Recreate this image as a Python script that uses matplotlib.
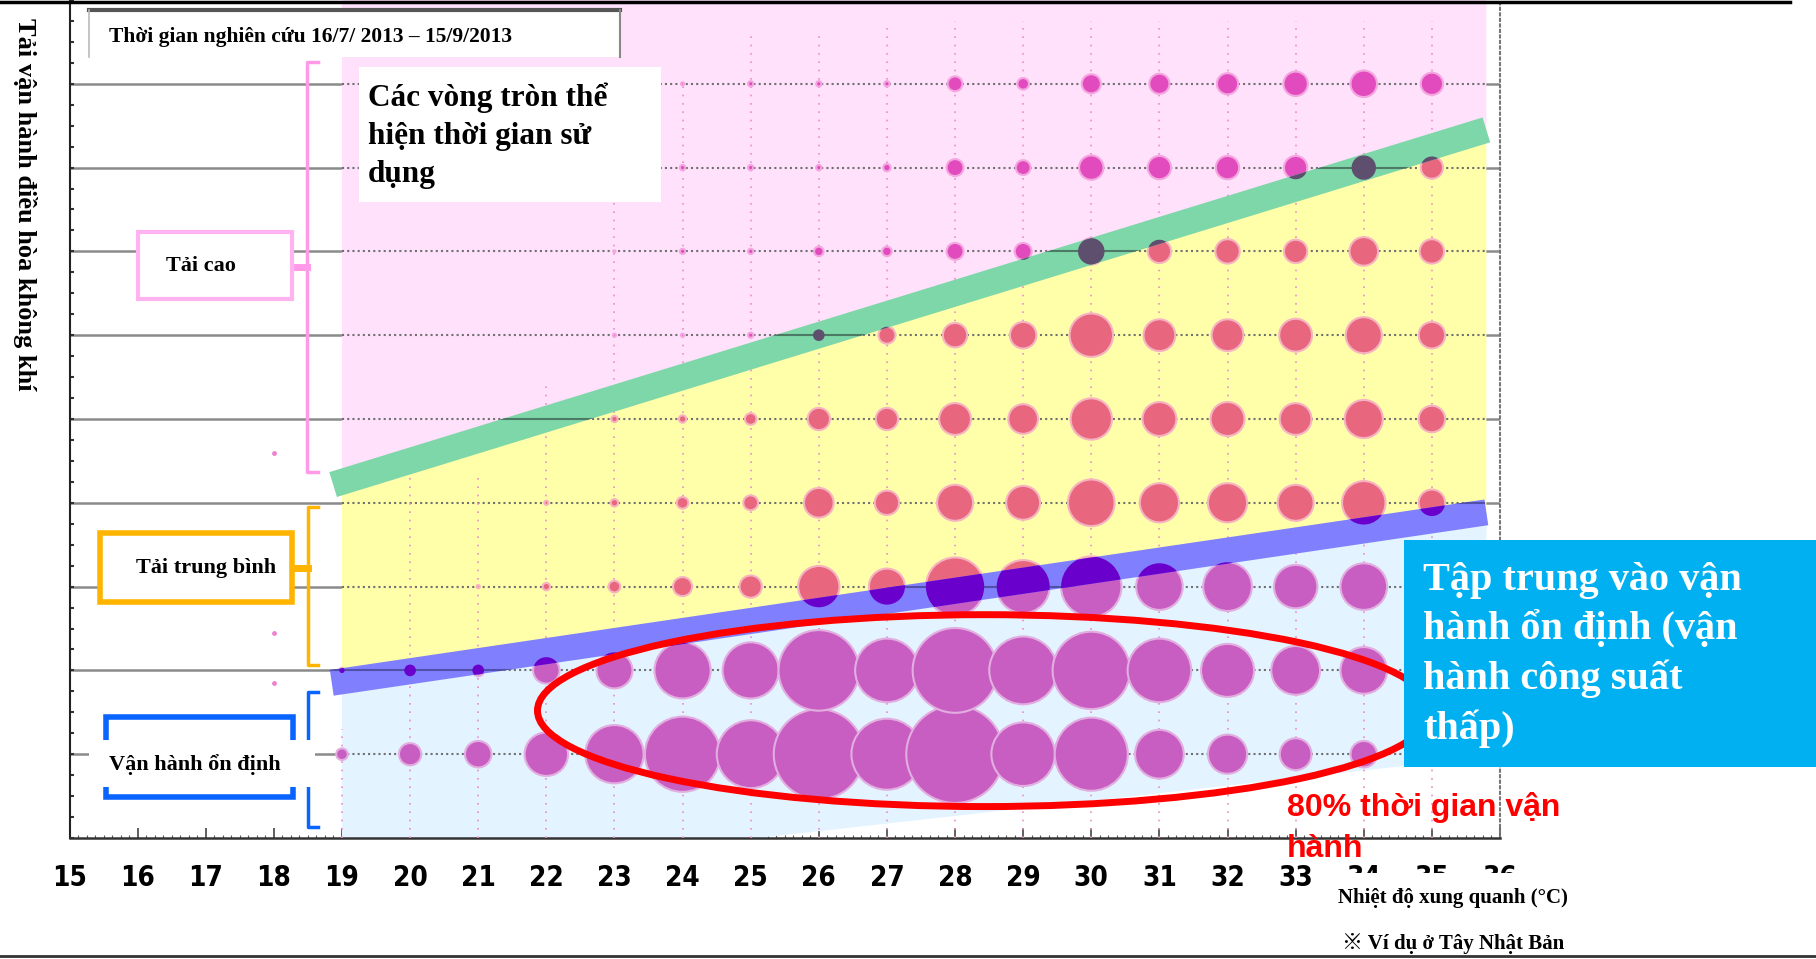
import matplotlib
matplotlib.use("Agg")
import matplotlib.pyplot as plt
import numpy as np
from matplotlib.patches import Polygon, Rectangle, Ellipse
from matplotlib.lines import Line2D
from matplotlib import font_manager

# ambient temperature columns and load levels
temps = [19, 20, 21, 22, 23, 24, 25, 26, 27, 28, 29, 30, 31, 32, 33, 34, 35]
loads = [1, 2, 3, 4, 5, 6, 7, 8, 9]

# bubble diameters (px) = operating time, one list per load level
load1 = [11, 21, 25, 41, 55, 71, 64, 85, 67, 92, 60, 69, 46, 37, 30, 25, 20]
load2 = [5, 11, 11, 25, 34, 53, 53, 76, 60, 80, 64, 73, 60, 50, 46, 44, 30]
load3 = [0, 0, 3, 7, 11, 18, 21, 39, 34, 55, 50, 57, 44, 46, 41, 44, 30]
load4 = [0, 0, 0, 4, 7, 11, 14, 28, 23, 34, 32, 44, 37, 37, 34, 41, 25]
load5 = [0, 0, 0, 0, 6, 7, 11, 21, 21, 30, 28, 39, 32, 32, 30, 36, 25]
load6 = [0, 0, 0, 0, 3, 3, 5, 11, 16, 23, 25, 41, 30, 30, 31, 34, 25]
load7 = [0, 0, 0, 0, 2, 5, 5, 9, 9, 16, 16, 25, 22, 23, 22, 27, 23]
load8 = [0, 0, 0, 0, 0, 5, 5, 5, 7, 16, 14, 23, 22, 22, 22, 23, 21]
load9 = [0, 0, 0, 0, 5, 3, 5, 5, 5, 14, 11, 18, 19, 20, 23, 25, 21]

# how high the thin dotted trail goes in each column
col_top = [1.3, 4.6, 4.3, 5.4, 7.8, 9.0, 9.6, 9.6, 9.7, 9.75, 9.75, 9.75, 9.75, 9.75, 9.75, 9.75, 9.75]

# a few stray readings at 18 degC
stray_t = [18, 18, 18]
stray_load = [4.6, 2.45, 1.85]

xticks = list(range(15, 37))

W, H = 1816, 959
fig = plt.figure(figsize=(W / 100, H / 100), dpi=100)
ax = fig.add_axes([69.5 / W, (H - 838) / H, (1500 - 69.5) / W, 838 / H])
ax.set_xlim(15, 36)
ax.set_ylim(0, 10)

serif = ['Liberation Serif', 'DejaVu Serif']

# narrow digits for the x axis if a condensed face exists
cond = [f for f in font_manager.fontManager.ttflist
        if f.name == 'DejaVu Sans' and f.stretch == 'condensed' and f.weight in (700, 'bold')]
if cond:
    tick_prop = font_manager.FontProperties(fname=cond[0].fname, size=20)
else:
    tick_prop = font_manager.FontProperties(family='DejaVu Sans', size=18)


def fx(x):
    return x / W


def fy(y):
    return 1 - y / H


def yg(x):
    return 6 + 0.25 * (x - 26)


def yb(x):
    return 1.87 + 0.12 * (x - 19)


def band_poly(x0, y0, x1, y1, thick):
    p0 = ax.transData.transform((x0, y0))
    p1 = ax.transData.transform((x1, y1))
    d = p1 - p0
    n = np.array([-d[1], d[0]]) / np.hypot(*d) * thick / 2
    pts = np.array([p0 + n, p1 + n, p1 - n, p0 - n])
    return ax.transData.inverted().transform(pts)


# grid: solid under everything, dotted over the coloured zones
ax.hlines(loads, 15, 36, color='#8a8a8a', lw=1.8, zorder=1)

xr = 35.8
ax.add_patch(Polygon([(19, yg(19)), (xr, yg(xr)), (xr, 10), (19, 10)], fc='#ffe1fb', ec='none', zorder=2))
ax.add_patch(Polygon([(19, yb(19)), (xr, yb(xr)), (xr, yg(xr)), (19, yg(19))], fc='#ffffaa', ec='none', zorder=2))
ax.add_patch(Polygon([(19, 0), (25.1, 0), (xr, 0.97), (xr, yb(xr)), (19, yb(19))], fc='#e3f3ff', ec='none', zorder=2))

ax.hlines(loads, 19, xr, color='#707070', lw=1.5, linestyles=(0, (1, 1.5)), zorder=3)
ax.vlines(temps, 0, col_top, color='#ec8ccc', lw=1.2, linestyles=(0, (1, 4)), zorder=3)
ax.scatter(stray_t, stray_load, s=6, color='#f080d0', zorder=3)

# bubbles, coloured by zone
sizes = np.array([load1, load2, load3, load4, load5, load6, load7, load8, load9], dtype=float)
tt, ll = np.meshgrid(temps, loads)
keep = sizes > 0
bx, by = tt[keep], ll[keep]
bs = (sizes[keep] * 1.06 * 0.72) ** 2

zones = [
    ([(10, yg(10)), (40, yg(40)), (40, 20), (10, 20)], '#e24bbd', '#f4a6e0'),
    ([(10, yb(10)), (40, yb(40)), (40, yg(40)), (10, yg(10))], '#e8677f', '#f6b4c0'),
    ([(10, -10), (40, -10), (40, yb(40)), (10, yb(10))], '#c85ec2', '#e2aee0'),
]
for verts, col, halo in zones:
    sc = ax.scatter(bx, by, s=bs, color=col, edgecolors=halo, linewidths=1.5, zorder=4)
    sc.set_clip_path(Polygon(verts, transform=ax.transData))

# boundary bands
green = Polygon(band_poly(18.87, yg(18.87), 35.8, yg(35.8), 26), fc='#7dd7a8', ec='none', zorder=5)
blue = Polygon(band_poly(18.85, yb(18.85), 35.8, yb(35.8), 26), fc='#8080ff', ec='none', zorder=5)
ax.add_patch(green)
ax.add_patch(blue)
for band, dark, line in [(green, '#5e4f6e', '#4d7a64'), (blue, '#6a00cc', '#5050a8')]:
    gl = ax.hlines(loads, 15, 36, color=line, lw=1.5, zorder=5.5)
    gl.set_clip_path(band)
    sc = ax.scatter(bx, by, s=bs, color=dark, edgecolors='none', zorder=6)
    sc.set_clip_path(band)

ax.add_patch(Ellipse((28.43, 1.52), 13.12, 2.29, fill=False, ec='#ff0000', lw=5, zorder=7))

# axes styling
ax.set_xticks(xticks)
ax.set_xticks(np.arange(15, 36.01, 0.125), minor=True)
ax.set_yticks(range(0, 11))
ax.set_yticks(np.arange(0, 10.01, 0.25), minor=True)
ax.set_yticklabels([])
ax.tick_params(axis='x', which='major', direction='in', length=7, width=1.2, color='#444444', pad=19)
ax.tick_params(axis='x', which='minor', direction='in', length=2, width=0.8, color='#555555')
ax.tick_params(axis='y', which='both', direction='in', length=3, width=1.5, color='#333333', left=True)
for lab in ax.get_xticklabels():
    lab.set_fontproperties(tick_prop)
ax.spines['top'].set_visible(False)
ax.spines['left'].set_color('#222222')
ax.spines['left'].set_linewidth(1.5)
ax.spines['bottom'].set_color('#333333')
ax.spines['bottom'].set_linewidth(1.8)
ax.spines['right'].set_color('#777777')
ax.spines['right'].set_linestyle(':')
ax.spines['right'].set_linewidth(1.5)


def rect(x0, y0, x1, y1, **kw):
    r = Rectangle((fx(x0), fy(y1)), (x1 - x0) / W, (y1 - y0) / H, transform=fig.transFigure, **kw)
    fig.add_artist(r)
    return r


def fline(xs, ys, **kw):
    fig.add_artist(Line2D([fx(v) for v in xs], [fy(v) for v in ys], transform=fig.transFigure, **kw))


# frame lines of the slide
fline([0, 1790], [1.5, 1.5], color='black', lw=2.5)
fline([0, W], [956, 956], color='#333333', lw=2)

# study period box
rect(89, 9, 620, 57, fc='white', ec='none', zorder=2)
fline([89, 620], [10, 10], color='#555555', lw=3, zorder=3)
fline([89, 89], [10, 57], color='#bbbbbb', lw=1.2, zorder=3)
fline([620, 620], [10, 57], color='#888888', lw=1.5, zorder=3)
fig.text(fx(109), fy(37), 'Thời gian nghiên cứu 16/7/ 2013 – 15/9/2013', family=serif,
         fontweight='bold', fontsize=15.5, va='center', ha='left')

# circle explanation
rect(359, 67, 661, 202, fc='white', ec='none', zorder=2)
fig.text(fx(368), fy(136), 'Các vòng tròn thể\nhiện thời gian sử\ndụng', family=serif,
         fontweight='bold', fontsize=22.5, va='center', ha='left', linespacing=1.4)

# load band labels with brackets
rect(138, 232, 292, 299, fc='white', ec='#ffb3f0', lw=3, zorder=2)
fig.text(fx(166), fy(266), 'Tải cao', family=serif, fontweight='bold', fontsize=16, va='center')
fline([318, 307, 307, 318], [62, 62, 472, 472], color='#ff99e8', lw=2.5)
fline([297, 307], [267, 267], color='#ff99e8', lw=5)

rect(100, 533, 292, 602, fc='white', ec='#ffb400', lw=4, zorder=2)
fig.text(fx(136), fy(568), 'Tải trung bình', family=serif, fontweight='bold', fontsize=16, va='center')
fline([318, 308, 308, 318], [507, 507, 665, 665], color='#ffb400', lw=2.5)
fline([297, 308], [568, 568], color='#ffb400', lw=5)

rect(106, 717, 293, 797, fc='white', ec='#0a64ff', lw=4, zorder=2)
fline([318, 308, 308, 318], [692, 692, 827, 827], color='#0a64ff', lw=2.5)
rect(89, 740, 315, 787, fc='white', ec='none', zorder=2)
fig.text(fx(109), fy(765), 'Vận hành ổn định', family=serif, fontweight='bold', fontsize=16, va='center')

# y label
fig.text(fx(25), fy(204), 'Tải vận hành điều hòa không khí', family=serif, fontweight='bold',
         fontsize=19, rotation=-90, va='center', ha='center')

# callout box
rect(1404, 540, W, 767, fc='#00b0f0', ec='none', zorder=2)
fig.text(fx(1423), fy(655), 'Tập trung vào vận\nhành ổn định (vận\nhành công suất\nthấp)', family=serif,
         fontweight='bold', fontsize=29, color='white', va='center', ha='left', linespacing=1.38)

# x label area
rect(1335, 873, 1600, 954, fc='white', ec='none', zorder=2)
fig.text(fx(1453), fy(898), 'Nhiệt độ xung quanh (°C)', family=serif, fontweight='bold',
         fontsize=15, ha='center', va='center')
fig.text(fx(1453), fy(943), '※ Ví dụ ở Tây Nhật Bản', family=['Liberation Serif', 'Noto Sans CJK JP', 'DejaVu Sans'],
         fontweight='bold', fontsize=15, ha='center', va='center')

fig.text(fx(1287), fy(828), '80% thời gian vận\nhành', family=['Liberation Sans', 'DejaVu Sans'],
         fontweight='bold', fontsize=23, color='#ff0000', ha='left', va='center', linespacing=1.45, zorder=5)

fig.savefig('out.png', dpi=100)
